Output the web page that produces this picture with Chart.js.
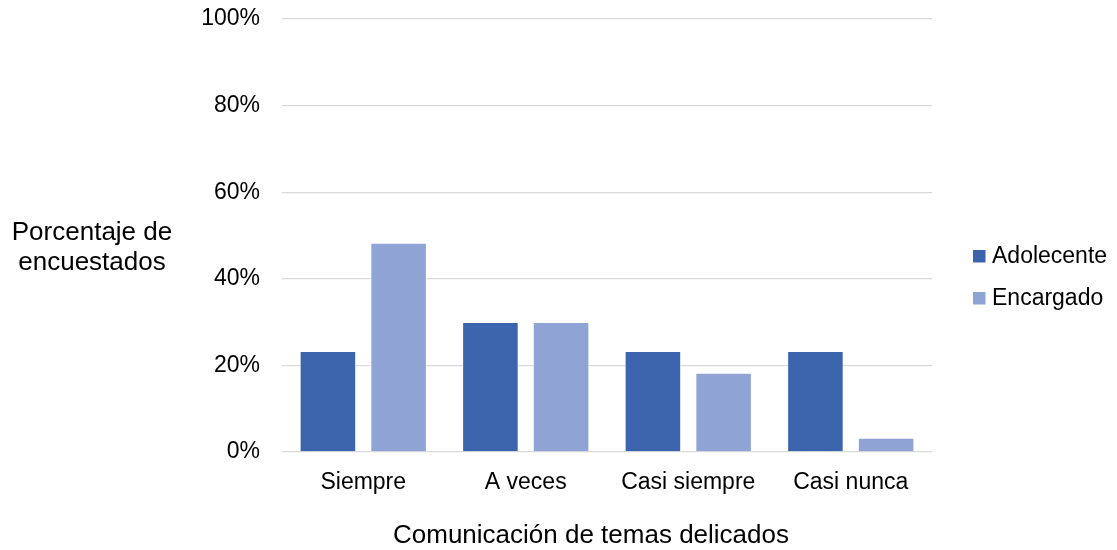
<!DOCTYPE html>
<html>
<head>
<meta charset="utf-8">
<script src="https://cdn.jsdelivr.net/npm/chart.js@4"></script>
<style>
  body { margin: 0; background: #fff; }
  #wrap { width: 1117px; height: 550px; }
</style>
</head>
<body>
<div id="wrap"><canvas id="chart" width="1117" height="550"></canvas></div>
<script>
// datos
const categorias = ['Siempre', 'A veces', 'Casi siempre', 'Casi nunca'];
const adolecente = [23.3, 30.0, 23.3, 23.3];
const encargado = [48.3, 30.0, 18.3, 3.3];
const series = ['Adolecente', 'Encargado'];
const colores = ['#3C64AC', '#8FA4D4'];
const tituloY = ['Porcentaje de', 'encuestados'];
const tituloX = 'Comunicación de temas delicados';

const FONT = '"Liberation Sans", Arial, sans-serif';

// titulos y leyenda dibujados a mano, como en Excel
const extras = {
  id: 'extras',
  afterDraw(chart) {
    const ctx = chart.ctx;
    ctx.save();
    ctx.fillStyle = '#000';
    ctx.textBaseline = 'alphabetic';

    ctx.font = '26px ' + FONT;
    ctx.textAlign = 'center';
    ctx.fillText(tituloY[0], 92, 240);
    ctx.fillText(tituloY[1], 92, 270);
    ctx.fillText(tituloX, 591, 543);

    ctx.font = '23px ' + FONT;
    ctx.textAlign = 'left';
    chart.data.datasets.forEach((ds, i) => {
      const y = 263 + i * 42;
      ctx.fillStyle = ds.backgroundColor;
      ctx.fillRect(973, y - 13, 12.5, 12.5);
      ctx.fillStyle = '#000';
      ctx.fillText(ds.label, 992, y);
    });
    ctx.restore();
  }
};

new Chart(document.getElementById('chart'), {
  type: 'bar',
  data: {
    labels: categorias,
    datasets: [
      { label: series[0], data: adolecente, backgroundColor: colores[0], borderColor: 'rgba(255,255,255,0.5)', borderWidth: 1 },
      { label: series[1], data: encargado, backgroundColor: colores[1], borderColor: 'rgba(255,255,255,0.5)', borderWidth: 1 },
    ],
  },
  options: {
    responsive: false,
    animation: false,
    layout: { padding: { top: 19, right: 185, left: 0, bottom: 0 } },
    datasets: {
      bar: { categoryPercentage: 0.87, barPercentage: 0.8 },
    },
    plugins: {
      legend: { display: false },
      tooltip: { enabled: false },
    },
    scales: {
      x: {
        grid: { display: false },
        border: { display: false },
        ticks: { color: '#000', font: { family: FONT, size: 23 }, padding: 9, maxRotation: 0 },
        afterFit: (s) => { s.height = 98; s.paddingLeft = 0; s.paddingRight = 0; },
      },
      y: {
        min: 0,
        max: 100,
        ticks: {
          stepSize: 20,
          color: '#000',
          font: { family: FONT, size: 23 },
          padding: 22,
          callback: (v) => v + '%',
        },
        grid: { color: '#d9d9d9', lineWidth: 1.3, drawTicks: false },
        border: { display: false },
        afterFit: (s) => { s.width = 282; s.paddingTop = 0; s.paddingBottom = 0; },
      },
    },
  },
  plugins: [extras],
});
</script>
</body>
</html>
